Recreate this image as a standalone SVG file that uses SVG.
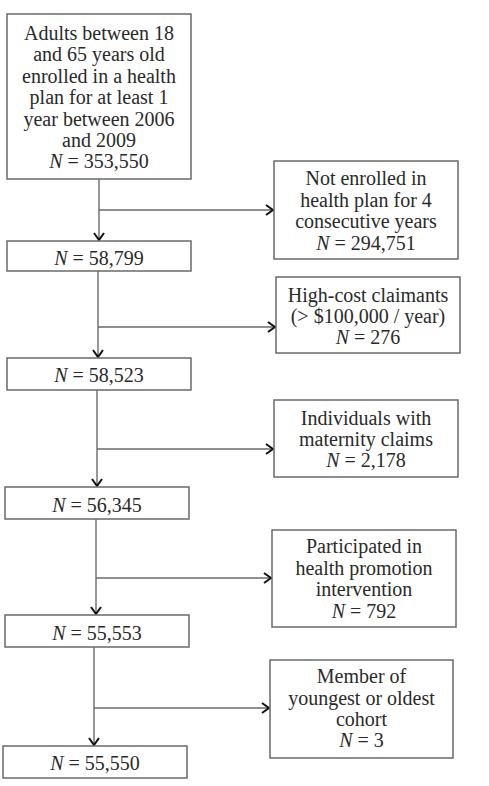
<svg xmlns="http://www.w3.org/2000/svg" width="489" height="786" viewBox="0 0 489 786">
<style>
.box{fill:#fff;stroke:#6a6a6a;stroke-width:1.5}
.t{font-family:"Liberation Serif","Times New Roman",serif;font-size:20px;fill:#2a2a2a;text-anchor:middle}
.i{font-style:italic}
.ln{fill:none;stroke:#6a6a6a;stroke-width:1.4}
</style>
<defs>
<marker id="ah" markerUnits="userSpaceOnUse" markerWidth="12" markerHeight="12" viewBox="0 0 12 12" refX="10" refY="6" orient="auto">
<path d="M3,1 L10,6 L3,11" fill="none" stroke="#111" stroke-width="2"/>
</marker>
</defs>
<rect width="489" height="786" fill="#fff"/>
<g id="connectors">
<line class="ln" x1="99" y1="179" x2="99" y2="240" marker-end="url(#ah)"/>
<line class="ln" x1="99" y1="210" x2="273" y2="210" marker-end="url(#ah)"/>
<line class="ln" x1="98" y1="271" x2="98" y2="357" marker-end="url(#ah)"/>
<line class="ln" x1="98" y1="327" x2="275" y2="327" marker-end="url(#ah)"/>
<line class="ln" x1="97" y1="390" x2="97" y2="486" marker-end="url(#ah)"/>
<line class="ln" x1="97" y1="449" x2="273" y2="449" marker-end="url(#ah)"/>
<line class="ln" x1="96" y1="519" x2="96" y2="614" marker-end="url(#ah)"/>
<line class="ln" x1="96" y1="578" x2="271" y2="578" marker-end="url(#ah)"/>
<line class="ln" x1="94" y1="647" x2="94" y2="745" marker-end="url(#ah)"/>
<line class="ln" x1="94" y1="708" x2="269" y2="708" marker-end="url(#ah)"/>
</g>
<g id="n0">
<rect class="box" x="7" y="14" width="184" height="165"/>
<text class="t" x="99" y="39.5">Adults between 18</text>
<text class="t" x="99" y="61">and 65 years old</text>
<text class="t" x="99" y="82.5">enrolled in a health</text>
<text class="t" x="99" y="104">plan for at least 1</text>
<text class="t" x="99" y="125.5">year between 2006</text>
<text class="t" x="99" y="147">and 2009</text>
<text class="t" x="99" y="168"><tspan class="i">N</tspan> = 353,550</text>
</g>
<g id="n1">
<rect class="box" x="7" y="241" width="184" height="30"/>
<text class="t" x="99" y="265"><tspan class="i">N</tspan> = 58,799</text>
</g>
<g id="x1">
<rect class="box" x="274" y="161" width="184" height="98"/>
<text class="t" x="366" y="185">Not enrolled in</text>
<text class="t" x="366" y="206.5">health plan for 4</text>
<text class="t" x="366" y="228">consecutive years</text>
<text class="t" x="366" y="249.5"><tspan class="i">N</tspan> = 294,751</text>
</g>
<g id="x2">
<rect class="box" x="276" y="277" width="184" height="76"/>
<text class="t" x="368" y="301.5">High-cost claimants</text>
<text class="t" x="368" y="322.5">(&gt; $100,000 / year)</text>
<text class="t" x="368" y="343.5"><tspan class="i">N</tspan> = 276</text>
</g>
<g id="n2">
<rect class="box" x="7" y="358" width="184" height="32"/>
<text class="t" x="99" y="382"><tspan class="i">N</tspan> = 58,523</text>
</g>
<g id="x3">
<rect class="box" x="274" y="400" width="184" height="77"/>
<text class="t" x="366" y="425">Individuals with</text>
<text class="t" x="366" y="446">maternity claims</text>
<text class="t" x="366" y="467"><tspan class="i">N</tspan> = 2,178</text>
</g>
<g id="n3">
<rect class="box" x="5" y="487" width="184" height="32"/>
<text class="t" x="97" y="511.5"><tspan class="i">N</tspan> = 56,345</text>
</g>
<g id="x4">
<rect class="box" x="272" y="530" width="184" height="97"/>
<text class="t" x="364" y="553">Participated in</text>
<text class="t" x="364" y="574.5">health promotion</text>
<text class="t" x="364" y="596">intervention</text>
<text class="t" x="364" y="617.5"><tspan class="i">N</tspan> = 792</text>
</g>
<g id="n4">
<rect class="box" x="5" y="615" width="184" height="32"/>
<text class="t" x="97" y="640"><tspan class="i">N</tspan> = 55,553</text>
</g>
<g id="x5">
<rect class="box" x="270" y="660" width="183" height="98"/>
<text class="t" x="361.5" y="683">Member of</text>
<text class="t" x="361.5" y="704.5">youngest or oldest</text>
<text class="t" x="361.5" y="726">cohort</text>
<text class="t" x="361.5" y="747"><tspan class="i">N</tspan> = 3</text>
</g>
<g id="n5">
<rect class="box" x="3" y="746" width="184" height="32"/>
<text class="t" x="95" y="770"><tspan class="i">N</tspan> = 55,550</text>
</g>
</svg>
